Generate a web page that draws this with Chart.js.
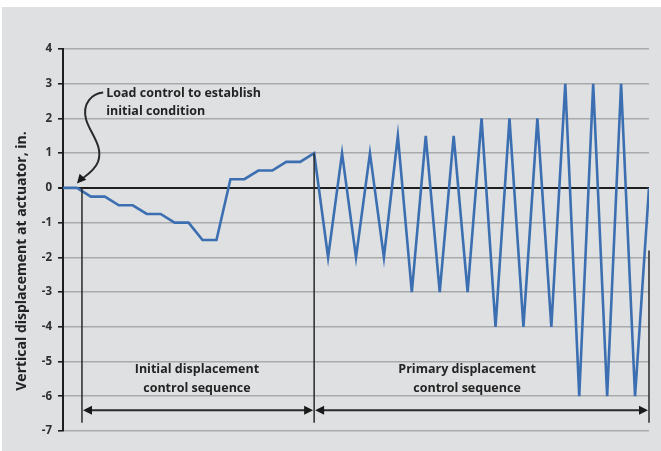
<!DOCTYPE html>
<html>
<head>
<meta charset="utf-8">
<script src="https://cdn.jsdelivr.net/npm/chart.js@4.4.1/dist/chart.umd.min.js"></script>
<style>
  body { margin: 0; background: #ffffff; }
  #marco { position: absolute; left: 2px; top: 7px; width: 659px; height: 444px; background: #dfe0e2; }
</style>
</head>
<body>
<div id="marco"><canvas id="graficoDesplazamiento"></canvas></div>
<script>
// pasos de carga (eje x) y desplazamiento vertical en el actuador (in.)
const pasos = [];
const desplazamiento = [
  0, 0, -0.25, -0.25, -0.5, -0.5, -0.75, -0.75, -1, -1, -1.5, -1.5,
  0.25, 0.25, 0.5, 0.5, 0.75, 0.75, 1,
  -2, 1, -2, 1, -2,
  1.5, -3, 1.5, -3, 1.5, -3,
  2, -4, 2, -4, 2, -4,
  3, -6, 3, -6, 3, -6, 0
];
for (let i = 0; i < desplazamiento.length; i++) { pasos.push(i); }

const yTicks = [4, 3, 2, 1, 0, -1, -2, -3, -4, -5, -6, -7];
const tituloY = "Vertical displacement at actuator, in.";
const textoCarga = ["Load control to establish", "initial condition"];
const textoInicial = ["Initial displacement", "control sequence"];
const textoPrimario = ["Primary displacement", "control sequence"];

// limites de las secuencias (en pasos)
const inicioInicial = 1.36;
const finInicial = 18;
const finPrimario = 42;

const puntos = pasos.map((p, i) => ({ x: p, y: desplazamiento[i] }));
const colorTexto = "#242424";
const fuente = "'Open Sans'";

function flecha(ctx, x, y, dir) {
  // punta de flecha rellena, dir = angulo en radianes
  ctx.save();
  ctx.translate(x, y);
  ctx.rotate(dir);
  ctx.beginPath();
  ctx.moveTo(0, 0);
  ctx.lineTo(-9, -4.5);
  ctx.lineTo(-9, 4.5);
  ctx.closePath();
  ctx.fill();
  ctx.restore();
}

const anotaciones = {
  id: "anotaciones",
  afterDatasetsDraw(chart) {
    const ctx = chart.ctx;
    const xs = chart.scales.x, ys = chart.scales.y;
    const px = v => xs.getPixelForValue(v);
    const py = v => ys.getPixelForValue(v);
    const area = chart.chartArea;
    ctx.save();
    ctx.strokeStyle = "#2a2a2a";
    ctx.fillStyle = "#1a1a1a";

    // lineas verticales que separan las secuencias
    const abajo = -6.76;
    ctx.lineWidth = 1.5;
    ctx.beginPath();
    ctx.moveTo(px(inicioInicial), py(0)); ctx.lineTo(px(inicioInicial), py(abajo));
    ctx.moveTo(px(finInicial), py(1)); ctx.lineTo(px(finInicial), py(abajo));
    ctx.moveTo(px(finPrimario), py(-1.8)); ctx.lineTo(px(finPrimario), py(abajo));
    ctx.stroke();

    // flechas dobles
    const yf = py(-6.4);
    ctx.lineWidth = 2;
    ctx.beginPath();
    ctx.moveTo(px(inicioInicial) + 4, yf); ctx.lineTo(px(finInicial) - 4, yf);
    ctx.moveTo(px(finInicial) + 4, yf); ctx.lineTo(px(finPrimario) - 4, yf);
    ctx.stroke();
    flecha(ctx, px(inicioInicial) + 1, yf, Math.PI);
    flecha(ctx, px(finInicial) - 1, yf, 0);
    flecha(ctx, px(finInicial) + 1, yf, Math.PI);
    flecha(ctx, px(finPrimario) - 1, yf, 0);

    // flecha curva de la condicion inicial
    ctx.lineWidth = 2;
    ctx.beginPath();
    ctx.moveTo(px(2.88), py(2.75));
    ctx.bezierCurveTo(px(2.1), py(2.72), px(1.36), py(2.45), px(1.65), py(1.98));
    ctx.bezierCurveTo(px(1.93), py(1.57), px(2.93), py(1.2), px(2.5), py(0.74));
    ctx.bezierCurveTo(px(2.2), py(0.45), px(1.6), py(0.35), px(1.15), py(0.2));
    ctx.stroke();
    flecha(ctx, px(1.0), py(0.13), Math.atan2(py(0.13) - py(0.22), px(1.0) - px(1.2)));

    // textos
    ctx.fillStyle = colorTexto;
    ctx.font = "bold 12.5px " + fuente;
    ctx.textBaseline = "middle";
    ctx.textAlign = "left";
    ctx.fillText(textoCarga[0], px(3.1), py(2.73));
    ctx.fillText(textoCarga[1], px(3.1), py(2.2));
    ctx.textAlign = "center";
    ctx.fillText(textoInicial[0], px(9.6), py(-5.24));
    ctx.fillText(textoInicial[1], px(9.6), py(-5.78));
    ctx.fillText(textoPrimario[0], px(28.96), py(-5.24));
    ctx.fillText(textoPrimario[1], px(28.96), py(-5.78));

    // titulo del eje y
    ctx.save();
    ctx.font = "bold 14px " + fuente;
    ctx.translate(20, (area.top + area.bottom) / 2 + 21);
    ctx.rotate(-Math.PI / 2);
    ctx.fillText(tituloY, 0, 0);
    ctx.restore();
    ctx.restore();
  }
};

new Chart("graficoDesplazamiento", {
  type: "line",
  data: {
    datasets: [{
      data: puntos,
      borderColor: "#3b6fb1",
      borderWidth: 2.6,
      pointRadius: 0,
      tension: 0,
      fill: false
    }]
  },
  options: {
    responsive: true,
    maintainAspectRatio: false,
    animation: false,
    devicePixelRatio: 1,
    layout: { padding: { top: 42, right: 12, bottom: 20, left: 0 } },
    plugins: { legend: { display: false }, tooltip: { enabled: false } },
    scales: {
      x: { type: "linear", min: 0, max: pasos.length - 1, display: false },
      y: {
        min: -7,
        max: 4,
        afterFit(scale) { scale.width = 61; },
        afterBuildTicks(scale) { scale.ticks = yTicks.map(v => ({ value: v })); },
        border: { color: "#1e1e1e", width: 2 },
        grid: {
          color: c => c.tick && c.tick.value === 0 ? "#1e1e1e" : "#a9aaac",
          lineWidth: c => c.tick && c.tick.value === 0 ? 2 : 1.6,
          tickColor: "#1e1e1e",
          tickLength: 5
        },
        ticks: {
          color: "#2e2e2e",
          font: { family: "Open Sans", weight: "bold", size: 11.5 },
          padding: 6
        }
      }
    }
  },
  plugins: [anotaciones]
});
</script>
</body>
</html>
